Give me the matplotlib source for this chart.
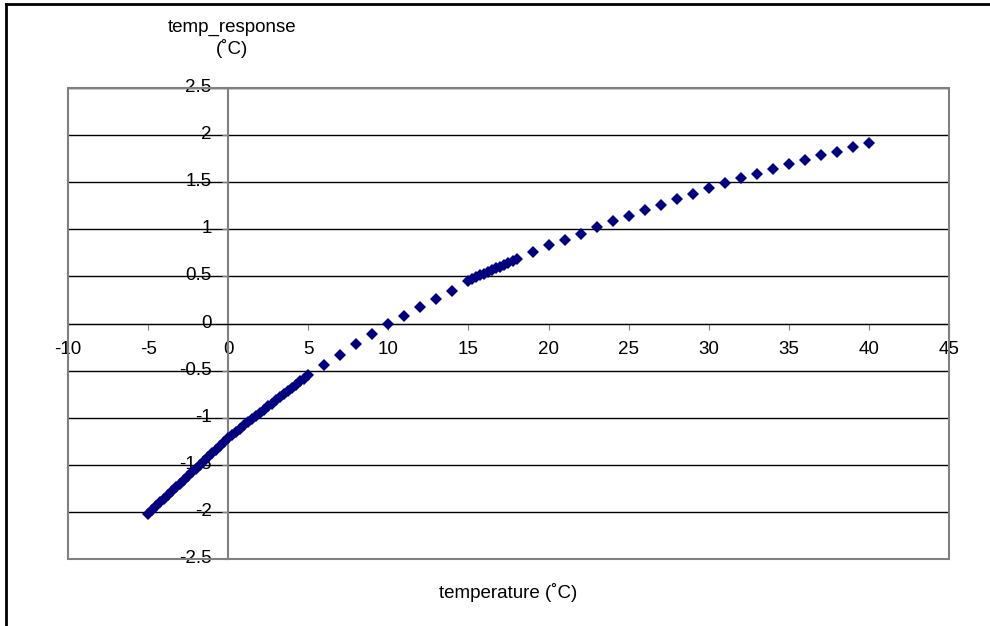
"""Scatter of temp_response against temperature, Excel-style."""

import matplotlib
matplotlib.use("Agg")
import matplotlib.pyplot as plt
from matplotlib.patches import Rectangle
from matplotlib.lines import Line2D
from matplotlib.transforms import ScaledTranslation

plt.rcParams["font.family"] = ["Liberation Sans", "DejaVu Sans"]

# dense run, -5 .. 5 degC
cold_x = [-5.0, -4.75, -4.5, -4.25, -4.0, -3.75, -3.5, -3.25, -3.0, -2.75,
          -2.5, -2.25, -2.0, -1.75, -1.5, -1.25, -1.0, -0.75, -0.5, -0.25,
          0.0, 0.25, 0.5, 0.75, 1.0, 1.25, 1.5, 1.75, 2.0, 2.25,
          2.5, 2.75, 3.0, 3.25, 3.5, 3.75, 4.0, 4.25, 4.5, 4.75, 5.0]
cold_y = [-2.02, -1.98, -1.94, -1.90, -1.86, -1.82, -1.78, -1.74, -1.70, -1.66,
          -1.62, -1.58, -1.54, -1.50, -1.46, -1.42, -1.38, -1.34, -1.30, -1.26,
          -1.22, -1.185, -1.15, -1.115, -1.08, -1.05, -1.015, -0.98, -0.95, -0.915,
          -0.88, -0.85, -0.815, -0.78, -0.75, -0.715, -0.68, -0.65, -0.615, -0.585, -0.55]

# whole degrees 6 .. 14
mid_x = [6, 7, 8, 9, 10, 11, 12, 13, 14]
mid_y = [-0.44, -0.33, -0.22, -0.11, 0.0, 0.08, 0.18, 0.26, 0.35]

# dense run, 15 .. 18 degC
warm_x = [15.0, 15.25, 15.5, 15.75, 16.0, 16.25, 16.5, 16.75, 17.0, 17.25, 17.5, 17.75, 18.0]
warm_y = [0.45, 0.47, 0.49, 0.51, 0.53, 0.55, 0.57, 0.585, 0.60, 0.62, 0.64, 0.66, 0.68]

# whole degrees 19 .. 40
hot_x = list(range(19, 41))
hot_y = [0.755, 0.83, 0.89, 0.95, 1.02, 1.085, 1.146, 1.21, 1.26, 1.326, 1.38,
         1.44, 1.49, 1.54, 1.59, 1.64, 1.69, 1.74, 1.79, 1.82, 1.87, 1.92]

x_ticks = [-10, -5, 0, 5, 10, 15, 20, 25, 30, 35, 40, 45]
y_ticks = [-2.5, -2, -1.5, -1, -0.5, 0, 0.5, 1, 1.5, 2, 2.5]

W, H = 990, 626
fig = plt.figure(figsize=(W / 100, H / 100), dpi=100)
ax = fig.add_axes([68 / W, 1 - 559 / H, (949 - 68) / W, (559 - 88) / H])

xs = cold_x + mid_x + warm_x + hot_x
ys = cold_y + mid_y + warm_y + hot_y
ax.plot(xs, ys, linestyle="none", marker="D", markersize=6.3,
        color="#000080", markeredgewidth=0, zorder=5)

ax.set_xlim(-10, 45)
ax.set_ylim(-2.5, 2.5)
ax.set_xticks(x_ticks)
ax.set_yticks(y_ticks)
ax.set_xticklabels([f"{t:g}" for t in x_ticks])
ax.set_yticklabels([f"{t:g}" for t in y_ticks])

for s in ("top", "right"):
    ax.spines[s].set_visible(False)
ax.spines["left"].set_position(("data", 0))
ax.spines["left"].set_color("#808080")
ax.spines["left"].set_linewidth(1.5)
ax.spines["bottom"].set_position(("data", 0))
ax.spines["bottom"].set_color("black")
ax.add_patch(Rectangle((0, 0), 1, 1, transform=ax.transAxes, fill=False,
                       edgecolor="#808080", lw=1.5, zorder=3, clip_on=False))

ax.yaxis.grid(True, color="black", lw=1)
ax.set_axisbelow(True)
ax.tick_params(axis="x", direction="out", length=4.5, color="#808080",
               labelsize=13.5, pad=8)
ax.tick_params(axis="y", direction="out", length=4, color="#808080",
               labelsize=13.5, pad=8)

# nudge y labels up a little so the hyphen sits just above the gridline
shift = ScaledTranslation(0, 2.5 / 100, fig.dpi_scale_trans)
for lbl in ax.get_yticklabels():
    lbl.set_transform(lbl.get_transform() + shift)

fig.text(232 / W, 1 - 27 / H, "temp_response", ha="center", va="center", fontsize=13.5)
fig.text(232 / W, 1 - 48 / H, "(˚C)", ha="center", va="center", fontsize=13.5)
fig.text(508 / W, 1 - 593 / H, "temperature (˚C)", ha="center", va="center", fontsize=13.5)

# outer chart border (left and top edges visible)
fig.add_artist(Line2D([6 / W, 6 / W], [0, 1 - 4 / H], color="black", lw=2))
fig.add_artist(Line2D([6 / W, 1], [1 - 4 / H, 1 - 4 / H], color="black", lw=2))

fig.savefig("out.png", dpi=100)
